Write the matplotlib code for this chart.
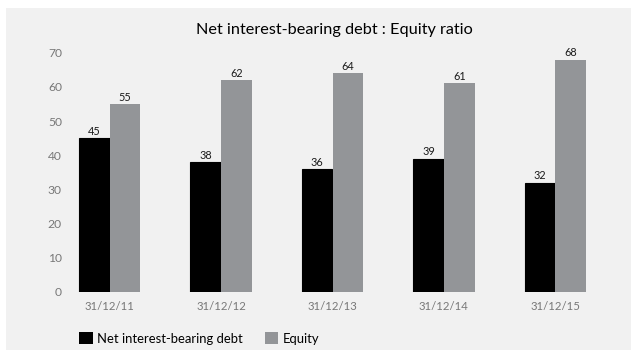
import matplotlib
matplotlib.use("Agg")
import matplotlib.pyplot as plt
from matplotlib.patches import Rectangle, Patch
import numpy as np

categories = ["31/12/11", "31/12/12", "31/12/13", "31/12/14", "31/12/15"]
debt = [45, 38, 36, 39, 32]
equity = [55, 62, 64, 61, 68]
yticks = [0, 10, 20, 30, 40, 50, 60, 70]

plt.rcParams['font.family'] = ['Lato', 'DejaVu Sans']

W, H = 633, 350
fig = plt.figure(figsize=(W/100, H/100), dpi=100)
fig.patch.set_facecolor('white')
bg = '#f1f1f1'
fig.patches.append(Rectangle((6/W, 0), 625/W, 342/H, transform=fig.transFigure,
                             facecolor=bg, edgecolor='none', zorder=-10))

left, right, top, bottom = 70, 595, 52.7, 292
ax = fig.add_axes([left/W, 1-bottom/H, (right-left)/W, (bottom-top)/H])
ax.set_facecolor('none')
x = np.arange(len(categories))
w = 0.276
dark = '#000000'
grey = '#939598'
b1 = ax.bar(x - w/2, debt, w, color=dark, edgecolor=dark, linewidth=0.8,
            label='Net interest-bearing debt', zorder=2)
b2 = ax.bar(x + w/2, equity, w, color=grey, edgecolor='none', linewidth=0,
            label='Equity', zorder=3)
for bars in (b1, b2):
    for r in bars:
        ax.annotate(f"{int(r.get_height())}", (r.get_x() + r.get_width()/2, r.get_height()),
                    xytext=(0, 1), textcoords='offset points', ha='center', va='bottom',
                    fontsize=7.8, color='#1a1a1a')
ax.set_xlim(-0.356, 4.356)
ax.set_ylim(0, 70)
ax.set_yticks(yticks)
ax.set_xticks(x)
ax.set_xticklabels(categories)
for s in ax.spines.values():
    s.set_visible(False)
ax.tick_params(axis='y', length=0, labelsize=8.7, colors='#787878', pad=5.8)
ax.tick_params(axis='x', length=0, labelsize=8.2, colors='#787878', pad=6.5)

fig.text(334/W, 1-30/H, "Net interest-bearing debt : Equity ratio", fontsize=11.7,
         color='#000000', ha='center', va='center')

handles = [Patch(facecolor=dark), Patch(facecolor=grey)]
fs = 9.4
fig.legend(handles, ['Net interest-bearing debt', 'Equity'], loc='center left',
           bbox_to_anchor=(74/W, 1-338.5/H), ncol=2, frameon=False, fontsize=fs,
           handlelength=1.03, handleheight=1.03, handletextpad=0.35, columnspacing=1.65,
           borderaxespad=0, borderpad=0.4)

fig.savefig("out.png", dpi=100, facecolor='white')
